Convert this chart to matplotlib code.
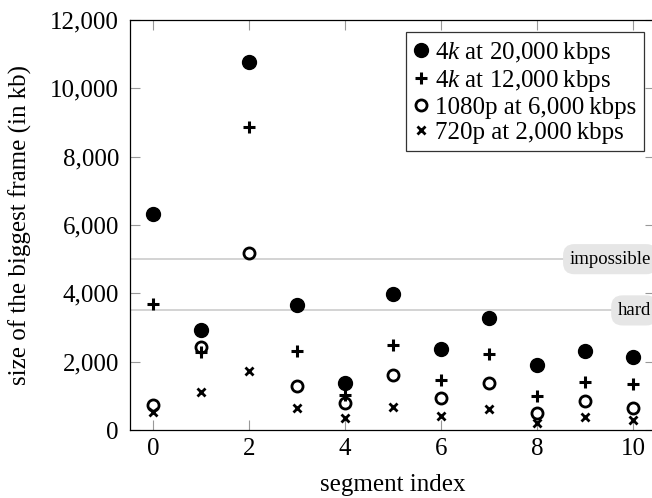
import numpy as np
import matplotlib
matplotlib.use("Agg")
import matplotlib.pyplot as plt
from matplotlib.ticker import FuncFormatter
from matplotlib.transforms import blended_transform_factory

plt.rcParams["font.family"] = ["Liberation Serif", "DejaVu Serif"]
plt.rcParams["mathtext.fontset"] = "custom"
plt.rcParams["mathtext.it"] = "Liberation Serif:italic"
plt.rcParams["mathtext.rm"] = "Liberation Serif"

# ── data ──────────────────────────────────────────────────────────────────────
segments = np.arange(11)
size_4k_20000 = [6330, 2920, 10770, 3660, 1380, 3980, 2360, 3290, 1900, 2310, 2150]
size_4k_12000 = [3700, 2280, 8860, 2310, 1020, 2490, 1460, 2215, 995, 1405, 1345]
size_1080_6000 = [730, 2440, 5180, 1290, 800, 1610, 945, 1365, 505, 850, 655]
size_720_2000 = [535, 1100, 1735, 630, 340, 660, 410, 625, 215, 370, 295]

thresholds = [5000, 3500]
threshold_labels = ["impossible", "hard"]

labels = ["4$k$ at 20,000\u2009kbps", "4$k$ at 12,000\u2009kbps",
          "1080p at 6,000\u2009kbps", "720p at 2,000\u2009kbps"]

# ── plot ──────────────────────────────────────────────────────────────────────
fig = plt.figure(figsize=(6.52, 4.98), dpi=100)
ax = fig.add_axes([130 / 652, 68 / 498, 525 / 652, 410 / 498])

for yv in thresholds:
    ax.axhline(yv, color="#cccccc", lw=1.2, zorder=1)

ax.plot(segments, size_4k_20000, "o", ms=10, color="black", label=labels[0], zorder=3)
ax.plot(segments, size_4k_12000, "+", ms=8, mew=2.2, color="black", label=labels[1], zorder=3)
ax.plot(segments, size_1080_6000, "o", ms=8, mew=2.0, mfc="none", color="black",
        label=labels[2], zorder=3)
ax.plot(segments, size_720_2000, "x", ms=5.5, mew=2.0, color="black", label=labels[3], zorder=3)

trans = blended_transform_factory(ax.transAxes, ax.transData)
for yv, txt in zip(thresholds, threshold_labels):
    ax.text((651 - 130) / 525, yv, txt, transform=trans, ha="right", va="center",
            fontsize=13.5, zorder=4,
            bbox=dict(boxstyle="round,pad=0.35,rounding_size=0.6",
                      fc="#e6e6e6", ec="none"))

ax.set_xlim(-0.48, 10.46)
ax.set_ylim(0, 12000)
ax.set_xticks(range(0, 11, 2))
ax.set_yticks(range(0, 12001, 2000))
ax.yaxis.set_major_formatter(FuncFormatter(lambda v, p: f"{int(v):,}"))
ax.tick_params(direction="in", length=7, width=0.8, color="#999999",
               labelsize=18, top=True, right=True, labelcolor="black")
ax.tick_params(axis="y", pad=8)
ax.tick_params(axis="x", pad=6)
for s in ax.spines.values():
    s.set_linewidth(0.9)

ax.set_xlabel("segment index", fontsize=18, labelpad=10)
ax.set_ylabel("size of the biggest frame (in kb)", fontsize=18, labelpad=13)

leg = ax.legend(loc="upper left", bbox_to_anchor=((406 - 130) / 525, (430 - 32) / 410),
                fontsize=18, frameon=True, fancybox=False, edgecolor="black",
                handlelength=0.6, handletextpad=0.25, labelspacing=0.1,
                borderpad=0.3, borderaxespad=0)
leg.get_frame().set_linewidth(0.9)

fig.savefig("out.png", dpi=100)
